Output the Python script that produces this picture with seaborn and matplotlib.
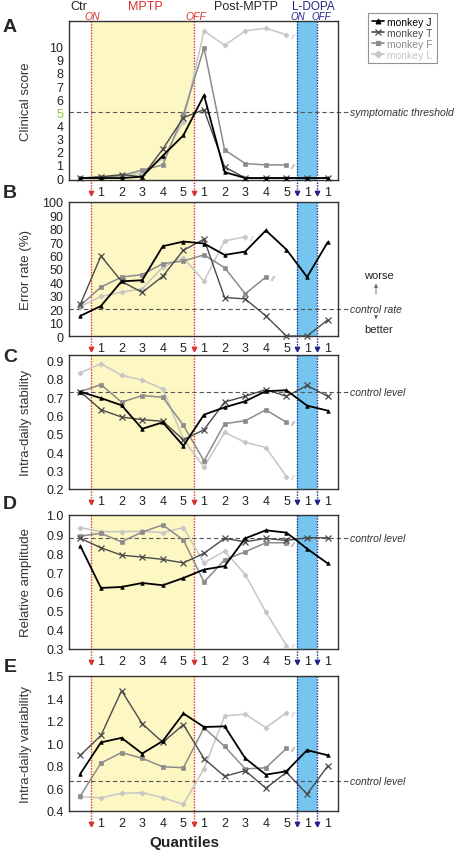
import numpy as np
import pandas as pd
import matplotlib
matplotlib.use("Agg")
import matplotlib.pyplot as plt
import seaborn as sns

sns.set_style("white")
plt.rcParams["font.family"] = ["Liberation Sans", "DejaVu Sans"]

nan = np.nan

# x positions: Ctr, MPTP 1-5, post-MPTP 1-5, L-DOPA ON, L-DOPA OFF
x_pos = list(range(13))
tick_labels = ["1", "2", "3", "4", "5", "1", "2", "3", "4", "5", "1", "1"]
monkeys = ["monkey J", "monkey T", "monkey F", "monkey L"]

clinical_J = [0, 0, 0, 0.1, 1.7, 3.25, 6.3, 0.45, 0, 0, 0, 0, 0]
clinical_T = [0, 0.1, 0.25, 0.1, 2.2, 4.6, 5.2, 0.85, 0, 0, 0, 0, 0]
clinical_F = [0, 0.05, 0.2, 0.6, 1.0, 4.85, 9.9, 2.15, 1.1, 1.0, 1.0, nan, nan]
clinical_L = [0, 0, 0.15, 0.4, 1.5, 4.3, 11.2, 10.1, 11.2, 11.4, 10.9, nan, nan]

error_J = [15, 22.4, 40.8, 41.6, 67, 70.5, 69, 60.5, 63, 78.8, 64.5, 44, 70]
error_T = [23.7, 59.7, 40.8, 32.5, 44.6, 64, 72.3, 28.7, 27.7, 15, 0, 0, 12]
error_F = [22.7, 36.5, 44, 45.8, 54, 56, 60.5, 51, 31.5, 44, nan, nan, nan]
error_L = [22, 29.5, 32.7, 35.3, 51.4, 58.4, 40.8, 71, 74, nan, nan, nan, nan]

stab_J = [0.73, 0.695, 0.656, 0.528, 0.563, 0.435, 0.605, 0.645, 0.678, 0.733, 0.738, 0.654, 0.627]
stab_T = [0.73, 0.632, 0.592, 0.578, 0.569, 0.468, 0.523, 0.674, 0.705, 0.742, 0.705, 0.764, 0.705]
stab_F = [0.73, 0.769, 0.673, 0.709, 0.70, 0.547, 0.353, 0.556, 0.572, 0.631, 0.563, nan, nan]
stab_L = [0.833, 0.882, 0.82, 0.793, 0.746, 0.47, 0.319, 0.508, 0.454, 0.426, 0.268, nan, nan]

amp_J = [0.838, 0.619, 0.624, 0.645, 0.633, 0.671, 0.715, 0.733, 0.878, 0.92, 0.908, 0.824, 0.747]
amp_T = [0.878, 0.829, 0.79, 0.78, 0.768, 0.75, 0.8, 0.878, 0.86, 0.878, 0.867, 0.881, 0.881]
amp_F = [0.89, 0.904, 0.86, 0.911, 0.948, 0.869, 0.65, 0.766, 0.808, 0.855, 0.855, nan, nan]
amp_L = [0.934, 0.913, 0.913, 0.915, 0.908, 0.934, 0.75, 0.811, 0.689, 0.493, 0.318, nan, nan]

var_J = [0.73, 1.008, 1.048, 0.909, 1.02, 1.264, 1.144, 1.15, 0.867, 0.722, 0.752, 0.939, 0.894]
var_T = [0.894, 1.069, 1.466, 1.174, 1.008, 1.165, 0.864, 0.707, 0.758, 0.602, 0.743, 0.55, 0.798]
var_F = [0.533, 0.825, 0.918, 0.867, 0.792, 0.783, 1.138, 0.972, 0.773, 0.783, 0.954, nan, nan]
var_L = [0.526, 0.517, 0.557, 0.563, 0.517, 0.46, 0.773, 1.243, 1.258, 1.138, 1.27, nan, nan]

control_levels = [5, 20.5, 0.727, 0.878, 0.662]
control_texts = ["symptomatic threshold", "control rate", "control level", "control level", "control level"]
ylabels = ["Clinical score", "Error rate (%)", "Intra-daily stability", "Relative amplitude", "Intra-daily variability"]
letters = ["A", "B", "C", "D", "E"]

colors = {"monkey J": "#000000", "monkey T": "#4a4a4a", "monkey F": "#8c8c8c", "monkey L": "#c6c6c6"}
markers = {"monkey J": "^", "monkey T": "x", "monkey F": "s", "monkey L": "D"}
msizes = {"monkey J": 2.6, "monkey T": 3.8, "monkey F": 2.8, "monkey L": 2.6}
lwidths = {"monkey J": 1.3, "monkey T": 1.0, "monkey F": 1.1, "monkey L": 1.1}

panels = [
    [clinical_J, clinical_T, clinical_F, clinical_L],
    [error_J, error_T, error_F, error_L],
    [stab_J, stab_T, stab_F, stab_L],
    [amp_J, amp_T, amp_F, amp_L],
    [var_J, var_T, var_F, var_L],
]

W, H = 455, 854
fig = plt.figure(figsize=(W / 100, H / 100), dpi=100)


def fx(x):
    return x / W


def fy(y):
    return 1 - y / H


# axes boxes in pixels (top, bottom)
boxes = [(22, 181), (203, 337), (356, 490), (516, 650), (677, 812)]
left_px, right_px = 69, 338
ylims = [(-0.15, 11.95), (0, 100), (0.2, 0.93), (0.3, 1.0), (0.4, 1.596)]
yticks = [
    list(range(12)),
    list(range(0, 101, 10)),
    [0.2, 0.3, 0.4, 0.5, 0.6, 0.7, 0.8, 0.9],
    [0.3, 0.4, 0.5, 0.6, 0.7, 0.8, 0.9, 1.0],
    [0.4, 0.6, 0.8, 1.0, 1.2, 1.4, 1.596],
]
yticklabels = [
    [str(i) for i in range(11)] + [""],
    [str(i) for i in range(0, 101, 10)],
    ["0.2", "0.3", "0.4", "0.5", "0.6", "0.7", "0.8", "0.9"],
    ["0.3", "0.4", "0.5", "0.6", "0.7", "0.8", "0.9", "1.0"],
    ["0.4", "0.6", "0.8", "1.0", "1.2", "1.4", "1.5"],
]

red = "#d8322c"
navy = "#23248a"

for i, (top, bot) in enumerate(boxes):
    ax = fig.add_axes([fx(left_px), fy(bot), fx(right_px - left_px), (bot - top) / H])
    ax.set_xlim(-0.55, 12.5)
    ax.set_ylim(*ylims[i])
    ax.axvspan(0.5, 5.5, color="#fdf7c4", zorder=0, lw=0)
    ax.axvspan(10.5, 11.5, color="#74c5ef", zorder=0, lw=0)

    h_px = bot - top
    below = -13.0 / h_px
    for xv, c in [(0.5, red), (5.5, red), (10.5, navy), (11.5, navy)]:
        ax.plot([xv, xv], [1, below + 0.02], transform=ax.get_xaxis_transform(),
                ls=(0, (1, 1)), color=c, lw=1.0, clip_on=False, zorder=1)
        ax.plot([xv], [below], transform=ax.get_xaxis_transform(), marker="v",
                ms=3.2, color=c, clip_on=False, zorder=1)

    # control / threshold line running out past the frame
    ax.plot([-0.55, 13.0], [control_levels[i]] * 2, ls=(0, (4, 2.5)), color="#555555",
            lw=0.8, clip_on=False, zorder=2)
    ax.text(13.07, control_levels[i], control_texts[i], style="italic", fontsize=7.5,
            va="center", ha="left", color="#333333")

    vals = panels[i]
    for name, y in zip(monkeys[::-1], vals[::-1]):
        df = pd.DataFrame({"x": x_pos, "y": y}).dropna()
        sns.lineplot(data=df, x="x", y="y", ax=ax, color=colors[name], marker=markers[name],
                     markersize=msizes[name], lw=lwidths[name], markeredgecolor=colors[name],
                     markeredgewidth=0.9 if name == "monkey T" else 0.5,
                     clip_on=False, zorder=3, legend=False)
        if name in ("monkey F", "monkey L"):
            last = df.iloc[-1]
            ax.annotate("//", (last["x"], last["y"]), xytext=(3, -1), textcoords="offset points",
                        fontsize=6, color=colors[name], va="center", ha="left", style="italic")

    ax.set_xticks(x_pos[1:])
    ax.set_xticklabels(tick_labels, fontsize=9)
    ax.set_yticks(yticks[i])
    ax.set_yticklabels(yticklabels[i], fontsize=9)
    ax.tick_params(axis="both", direction="out", length=2.5, width=0.8, pad=1.5, colors="#222222")
    ax.tick_params(axis="x", pad=2)
    ax.set_xlabel("")
    ax.set_ylabel("")
    for s in ax.spines.values():
        s.set_color("#333333")
        s.set_linewidth(1.0)

    fig.text(fx(26), fy((top + bot) / 2), ylabels[i], rotation=90, fontsize=9.5,
             ha="center", va="center", color="#333333")

    if i == 0:
        ax.get_yticklabels()[5].set_color("#8dc63f")

letter_y = [27, 193, 358, 505, 668]
for l, ly in zip(letters, letter_y):
    fig.text(fx(10), fy(ly), l, fontsize=14, fontweight="bold", ha="center", va="center")

# top labels
fig.text(fx(79), fy(7), "Ctr", fontsize=9, ha="center", va="center")
fig.text(fx(145), fy(7), "MPTP", fontsize=9, color=red, ha="center", va="center")
fig.text(fx(246), fy(7), "Post-MPTP", fontsize=9, ha="center", va="center")
fig.text(fx(313), fy(6.5), "L-DOPA", fontsize=8.5, color=navy, ha="center", va="center")
fig.text(fx(92), fy(17), "ON", fontsize=7.5, color=red, style="italic", ha="center", va="center")
fig.text(fx(196), fy(17), "OFF", fontsize=7.5, color=red, style="italic", ha="center", va="center")
fig.text(fx(298), fy(17.5), "ON", fontsize=7, color=navy, style="italic", ha="center", va="center")
fig.text(fx(321), fy(17.5), "OFF", fontsize=7, color=navy, style="italic", ha="center", va="center")

# worse / better arrows
fig.text(fx(379), fy(276), "worse", fontsize=8, ha="center", va="center", color="#222222")
fig.text(fx(379), fy(330), "better", fontsize=8, ha="center", va="center", color="#222222")
fig.add_artist(matplotlib.patches.FancyArrowPatch((fx(376), fy(298)), (fx(376), fy(282)),
               transform=fig.transFigure, arrowstyle="-|>", mutation_scale=5, lw=0.6, color="#666666"))
fig.add_artist(matplotlib.patches.FancyArrowPatch((fx(376), fy(315)), (fx(376), fy(323)),
               transform=fig.transFigure, arrowstyle="-|>", mutation_scale=5, lw=0.6, color="#666666"))

# legend
handles = [matplotlib.lines.Line2D([], [], color=colors[m], marker=markers[m], ms=msizes[m] + 0.8,
                                   lw=1.2, markeredgewidth=0.9) for m in monkeys]
leg = fig.legend(handles, monkeys, loc="upper left", bbox_to_anchor=(fx(368), fy(14)),
                 fontsize=7.5, frameon=True, fancybox=False, handlelength=1.2, handletextpad=0.3,
                 labelspacing=0.1, borderpad=0.35, borderaxespad=0)
leg.get_frame().set_edgecolor("#777777")
leg.get_frame().set_linewidth(0.8)
for t, m in zip(leg.get_texts(), monkeys):
    t.set_color(colors[m])

fig.text(fx(184), fy(843), "Quantiles", fontsize=11, fontweight="bold", ha="center", va="center",
         color="#222222")

plt.savefig("out.png", dpi=100)
